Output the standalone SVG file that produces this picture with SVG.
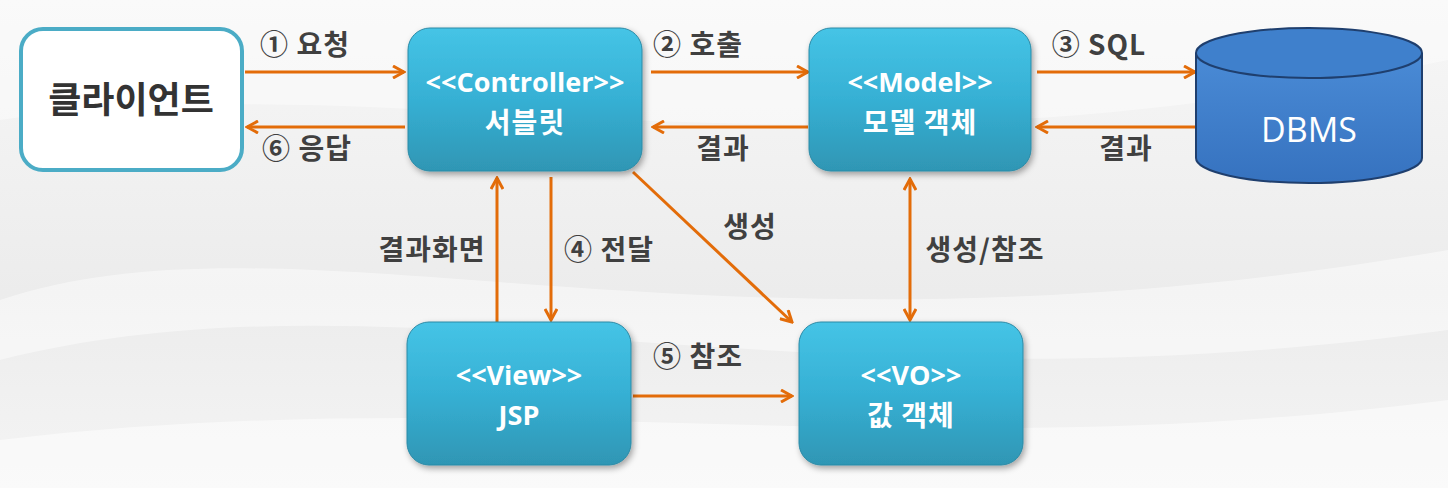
<svg xmlns="http://www.w3.org/2000/svg" width="1448" height="488" viewBox="0 0 1448 488">
<defs>
<style>
.lbl{font-family:"Noto Sans CJK KR","Liberation Sans",sans-serif;font-weight:bold;font-size:28px;fill:#404040;text-anchor:middle;letter-spacing:1px}
.nt{font-family:"Open Sans","Noto Sans CJK KR",sans-serif;font-weight:bold;font-size:27px;fill:#ffffff;text-anchor:middle}
.nk{font-family:"Noto Sans CJK KR","Open Sans",sans-serif;font-weight:bold;font-size:28px;fill:#ffffff;text-anchor:middle;letter-spacing:1px}
.box{fill:url(#bg1);stroke:#2a8aa6;stroke-width:1;filter:url(#sh)}
.ar{stroke:#e36c09;stroke-width:3;fill:none}
</style>
<linearGradient id="back" x1="0" y1="0" x2="0" y2="1">
<stop offset="0" stop-color="#f7f7f7"/><stop offset="0.6" stop-color="#ececec"/><stop offset="1" stop-color="#f4f4f4"/>
</linearGradient>
<linearGradient id="bg1" x1="0" y1="0" x2="0" y2="1">
<stop offset="0" stop-color="#45c4e6"/><stop offset="0.5" stop-color="#36b0d4"/><stop offset="1" stop-color="#2f96b4"/>
</linearGradient>
<linearGradient id="cyl" x1="0" y1="0" x2="0" y2="1">
<stop offset="0" stop-color="#4a8bd6"/><stop offset="1" stop-color="#3672bf"/>
</linearGradient>
<filter id="sh" x="-10%" y="-10%" width="125%" height="130%">
<feDropShadow dx="2" dy="3" stdDeviation="3" flood-color="#000" flood-opacity="0.35"/>
</filter>
<marker id="ah" viewBox="0 0 14 14" refX="12" refY="7" markerWidth="14" markerHeight="14" markerUnits="userSpaceOnUse" orient="auto-start-reverse">
<path d="M1,1 L12,7 L1,13" fill="none" stroke="#e36c09" stroke-width="3" stroke-linejoin="miter"/>
</marker>
</defs>
<rect width="1448" height="488" fill="url(#back)"/>
<path d="M0,300 C300,200 700,380 1448,250 L1448,330 C800,420 400,260 0,360 Z" fill="#ffffff" opacity="0.45"/>
<path d="M0,120 C400,60 800,200 1448,60 L1448,0 L0,0 Z" fill="#ffffff" opacity="0.4"/>
<path d="M0,440 C500,380 900,470 1448,400 L1448,488 L0,488 Z" fill="#ffffff" opacity="0.5"/>

<g id="connectors">
<line class="ar" x1="245" y1="72" x2="404" y2="72" marker-end="url(#ah)"/>
<line class="ar" x1="405" y1="127" x2="247" y2="127" marker-end="url(#ah)"/>
<line class="ar" x1="651" y1="72" x2="808" y2="72" marker-end="url(#ah)"/>
<line class="ar" x1="808" y1="127" x2="653" y2="127" marker-end="url(#ah)"/>
<line class="ar" x1="1037" y1="72" x2="1195" y2="72" marker-end="url(#ah)"/>
<line class="ar" x1="1195" y1="127" x2="1037" y2="127" marker-end="url(#ah)"/>
<line class="ar" x1="497" y1="322" x2="497" y2="178" marker-end="url(#ah)"/>
<line class="ar" x1="551" y1="177" x2="551" y2="320" marker-end="url(#ah)"/>
<line class="ar" x1="633" y1="172" x2="792" y2="322" marker-end="url(#ah)"/>
<line class="ar" x1="910" y1="179" x2="910" y2="320" marker-start="url(#ah)" marker-end="url(#ah)"/>
<line class="ar" x1="633" y1="396" x2="792" y2="396" marker-end="url(#ah)"/>
<text class="lbl" x="305" y="55">① 요청</text>
<text class="lbl" x="307" y="159">⑥ 응답</text>
<text class="lbl" x="698" y="55">② 호출</text>
<text class="lbl" x="723" y="159">결과</text>
<text class="lbl" x="1099" y="55">③ SQL</text>
<text class="lbl" x="1126" y="159">결과</text>
<text class="lbl" x="432" y="260">결과화면</text>
<text class="lbl" x="609" y="260">④ 전달</text>
<text class="lbl" x="750" y="237">생성</text>
<text class="lbl" x="985" y="260">생성/참조</text>
<text class="lbl" x="698" y="367">⑤ 참조</text>
</g>

<g id="client">
<rect x="21" y="29" width="221" height="141" rx="22" fill="#ffffff" stroke="#4bacc6" stroke-width="4"/>
<text x="131" y="113" font-family="Noto Sans CJK KR, Liberation Sans, sans-serif" font-weight="bold" font-size="36" fill="#333333" text-anchor="middle">클라이언트</text>
</g>
<g id="controller">
<rect class="box" x="408" y="28" width="234" height="143" rx="22"/>
<text class="nt" x="525" y="92">&lt;&lt;Controller&gt;&gt;</text>
<text class="nk" x="525" y="133">서블릿</text>
</g>
<g id="model">
<rect class="box" x="809" y="28" width="222" height="143" rx="22"/>
<text class="nt" x="920" y="92">&lt;&lt;Model&gt;&gt;</text>
<text class="nk" x="920" y="133">모델 객체</text>
</g>
<g id="dbms">
<path d="M1196,53 L1196,158 A113,25 0 0 0 1422,158 L1422,53" fill="url(#cyl)" stroke="#1f3f6e" stroke-width="2"/>
<ellipse cx="1309" cy="53" rx="113" ry="25" fill="#3f80cc" stroke="#1f3f6e" stroke-width="2"/>
<text x="1309" y="142" font-family="Open Sans, Noto Sans CJK KR, sans-serif" font-size="34" fill="#ffffff" text-anchor="middle">DBMS</text>
</g>
<g id="view">
<rect class="box" x="407" y="322" width="224" height="143" rx="22"/>
<text class="nt" x="519" y="385">&lt;&lt;View&gt;&gt;</text>
<text class="nt" x="519" y="425" font-size="28">JSP</text>
</g>
<g id="vo">
<rect class="box" x="799" y="322" width="224" height="143" rx="22"/>
<text class="nt" x="911" y="385">&lt;&lt;VO&gt;&gt;</text>
<text class="nk" x="911" y="426">값 객체</text>
</g>
</svg>
